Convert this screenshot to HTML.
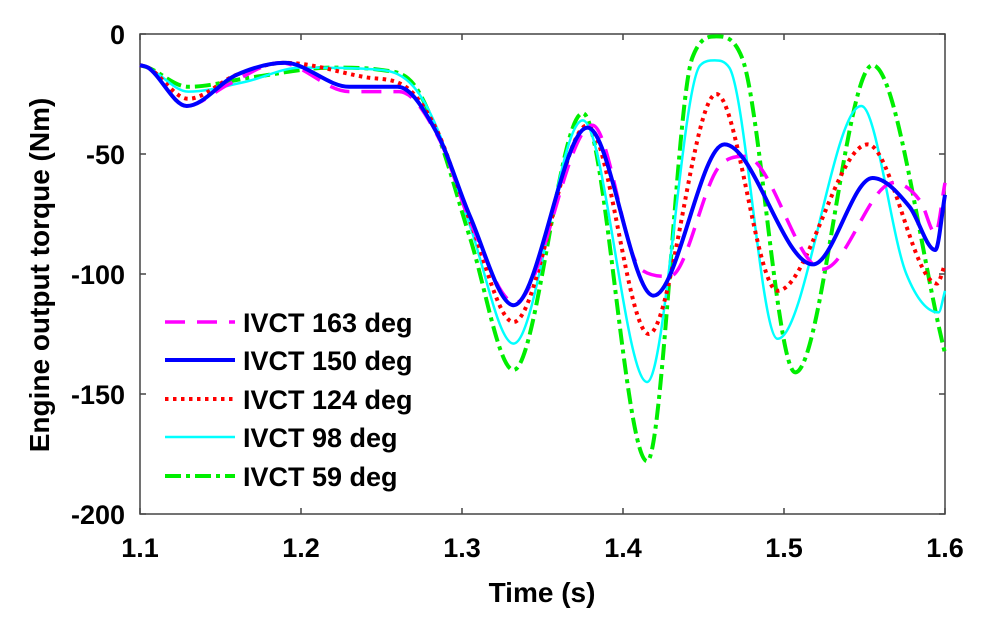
<!DOCTYPE html>
<html><head><meta charset="utf-8"><style>
html,body{margin:0;padding:0;background:#fff}
svg{display:block}
text{font-family:"Liberation Sans",Arial,sans-serif;font-weight:bold;fill:#000}
</style></head><body>
<svg id="chart" width="996" height="627" viewBox="0 0 996 627" xmlns="http://www.w3.org/2000/svg">
<rect x="140" y="34" width="805" height="480" fill="#fff" stroke="#444" stroke-width="1.5"/>
<g id="ticks"></g>
<g id="series"></g>
<text x="542" y="602" font-size="28" text-anchor="middle">Time (s)</text>
<text transform="translate(49,275) rotate(-90)" font-size="28" text-anchor="middle">Engine output torque (Nm)</text>
<g id="legend"></g>
</svg>
<script>
const xTicks=[1.1,1.2,1.3,1.4,1.5,1.6];
const xTickLabels=["1.1","1.2","1.3","1.4","1.5","1.6"];
const yTicks=[0,-50,-100,-150,-200];
const yTickLabels=["0","-50","-100","-150","-200"];
const seriesNames=["IVCT 163 deg","IVCT 150 deg","IVCT 124 deg","IVCT 98 deg","IVCT 59 deg"];
const t163=[1.1,1.105,1.129,1.155,1.187,1.23,1.261,1.286,1.305,1.333,1.381,1.411,1.429,1.46,1.476,1.524,1.568,1.585,1.594,1.6];
const v163=[-13,-14,-30,-21,-12,-24,-24,-44,-78,-112,-38,-98,-101,-55,-51,-98,-62,-70,-83,-62];
const t150=[1.1,1.105,1.129,1.16,1.19,1.23,1.26,1.285,1.305,1.332,1.378,1.419,1.463,1.518,1.555,1.578,1.594,1.6];
const v150=[-13,-14,-30,-17,-12,-22,-22,-42,-76,-113,-39,-109,-46,-96,-60,-72,-90,-67];
const t124=[1.1,1.105,1.13,1.16,1.19,1.24,1.265,1.285,1.305,1.332,1.378,1.416,1.458,1.496,1.552,1.595,1.6];
const v124=[-13,-14,-27,-17,-12,-18,-22,-41,-78,-120,-38,-125,-25,-107,-46,-104,-96];
const t98=[1.1,1.105,1.13,1.165,1.2,1.25,1.27,1.285,1.305,1.332,1.375,1.415,1.448,1.457,1.466,1.496,1.548,1.576,1.596,1.6];
const v98=[-13,-14,-24,-20,-14,-15,-22,-40,-80,-129,-36,-145,-13,-11,-14,-127,-30,-100,-116,-107];
const t59=[1.1,1.105,1.13,1.17,1.22,1.25,1.27,1.285,1.305,1.332,1.375,1.415,1.443,1.458,1.474,1.507,1.555,1.6];
const v59=[-13,-14,-22,-18,-14,-15,-21,-42,-85,-140,-33,-178,-10,-1,-10,-141,-13,-133];
const NS="http://www.w3.org/2000/svg";
const X=t=>140+(t-1.1)/0.5*805;
const Y=v=>34+(-v)/200*480;
function mk(tag,attrs,parent){const e=document.createElementNS(NS,tag);for(const k in attrs)e.setAttribute(k,attrs[k]);parent.appendChild(e);return e;}
const ticks=document.getElementById('ticks');
xTicks.forEach((t,i)=>{
 const l=mk('line',{x1:X(t),x2:X(t),y1:514,y2:508,stroke:'#444','stroke-width':1.5},ticks);
 
 
 const l2=mk('line',{x1:X(t),x2:X(t),y1:34,y2:40,stroke:'#444','stroke-width':1.5},ticks);
 
 
 const tx=mk('text',{x:X(t),y:557,'font-size':27,'text-anchor':'middle'},ticks);tx.textContent=xTickLabels[i];
 
 
});
yTicks.forEach((v,i)=>{
 const l=mk('line',{x1:140,x2:146,y1:Y(v),y2:Y(v),stroke:'#444','stroke-width':1.5},ticks);
 
 
 const l2=mk('line',{x1:945,x2:939,y1:Y(v),y2:Y(v),stroke:'#444','stroke-width':1.5},ticks);
 
 
 const tx=mk('text',{x:125,y:Y(v)+10,'font-size':27,'text-anchor':'end'},ticks);tx.textContent=yTickLabels[i];
 
 
});
function pathFor(ts,vs){
 const p=ts.map((t,i)=>[X(t),Y(vs[i])]);
 const n=p.length, dl=[], m=new Array(n);
 for(let i=0;i<n-1;i++)dl.push((p[i+1][1]-p[i][1])/(p[i+1][0]-p[i][0]));
 m[0]=dl[0];m[n-1]=dl[n-2];
 for(let i=1;i<n-1;i++){m[i]=(dl[i-1]*dl[i]<=0)?0:(dl[i-1]+dl[i])/2;}
 for(let i=0;i<n-1;i++){
  if(dl[i]===0){m[i]=0;m[i+1]=0;continue;}
  const a=m[i]/dl[i],b=m[i+1]/dl[i],s=a*a+b*b;
  if(s>9){const k=3/Math.sqrt(s);m[i]=k*a*dl[i];m[i+1]=k*b*dl[i];}
 }
 let d=`M${p[0][0]},${p[0][1]}`;
 for(let i=0;i<n-1;i++){
  const h=(p[i+1][0]-p[i][0])/3;
  d+=` C${p[i][0]+h},${p[i][1]+m[i]*h} ${p[i+1][0]-h},${p[i+1][1]-m[i+1]*h} ${p[i+1][0]},${p[i+1][1]}`;
 }
 return d;
}
const styles=[
 {stroke:'#ff00ff',w:3.5,dash:'20,12',name:'series-ivct-163'},
 {stroke:'#0000ff',w:4,dash:'',name:'series-ivct-150'},
 {stroke:'#ff0000',w:4,dash:'3.5,4.5',name:'series-ivct-124'},
 {stroke:'#00ffff',w:2.5,dash:'',name:'series-ivct-98'},
 {stroke:'#00ee00',w:4,dash:'16,5,4,5',name:'series-ivct-59'}];
const data=[[t163,v163],[t150,v150],[t124,v124],[t98,v98],[t59,v59]];
const sg=document.getElementById('series');
const order=[4,3,2,0,1];
order.forEach(i=>{
 const s=styles[i];
 const p=mk('path',{d:pathFor(data[i][0],data[i][1]),fill:'none',stroke:s.stroke,'stroke-width':s.w,'stroke-dasharray':s.dash,'stroke-linejoin':'round'},sg);
 
 
});
const lg=document.getElementById('legend');
const ly=[322,360,399,437,476];
styles.forEach((s,i)=>{
 const g=mk('g',{},lg);
 
 
 mk('line',{x1:165,x2:235,y1:ly[i],y2:ly[i],stroke:s.stroke,'stroke-width':s.w,'stroke-dasharray':s.dash},g);
 const tx=mk('text',{x:243,y:ly[i]+10,'font-size':27},g);tx.textContent=seriesNames[i];
});
</script>
</body></html>
